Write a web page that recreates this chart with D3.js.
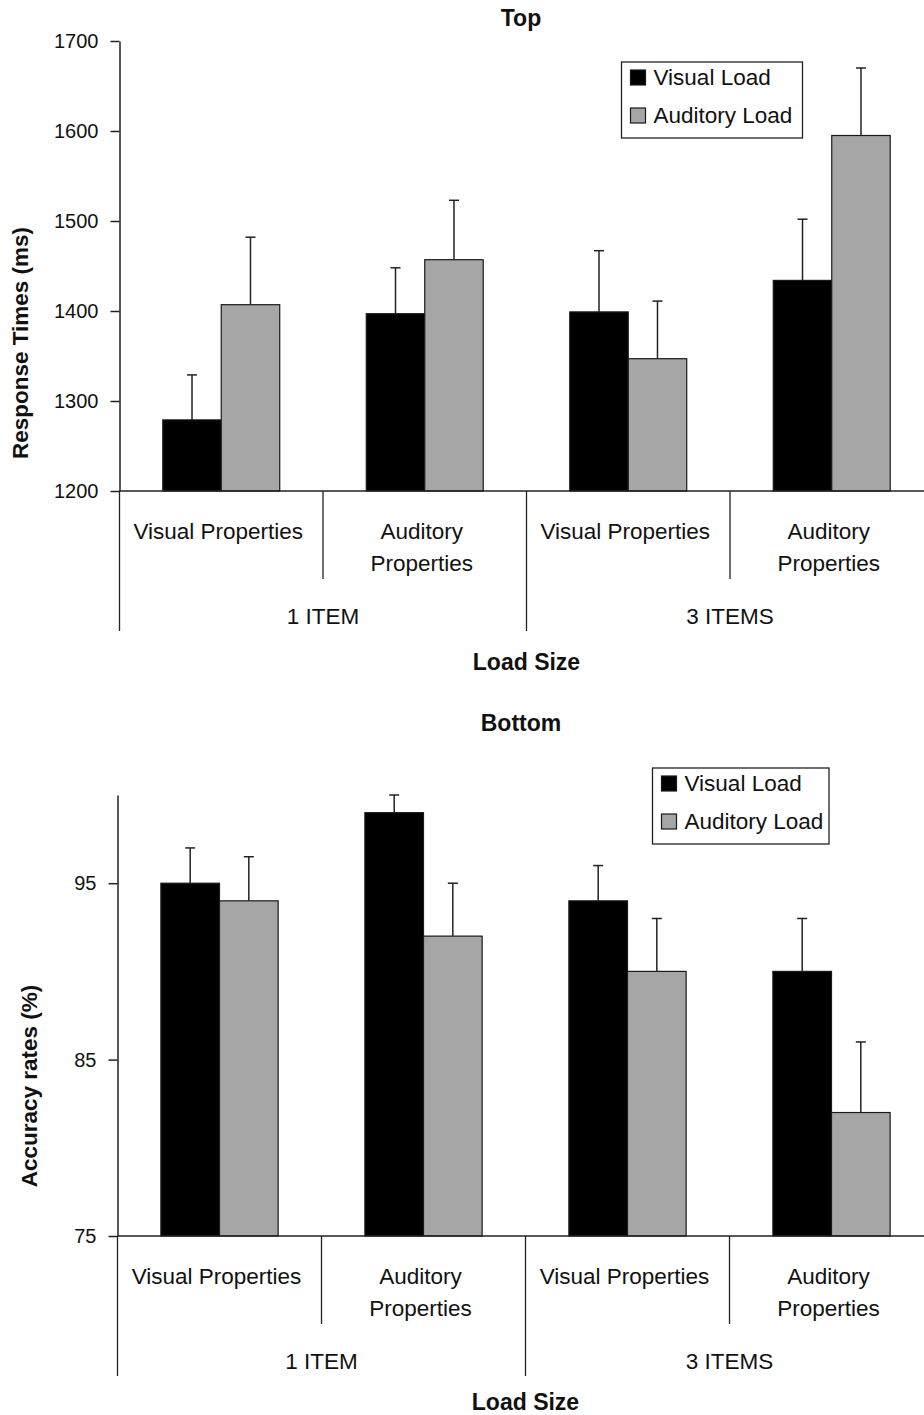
<!DOCTYPE html>
<html>
<head>
<meta charset="utf-8">
<script src="https://cdn.jsdelivr.net/npm/d3@7"></script>
<style>
  body { margin: 0; background: #fff; overflow: hidden; }
  text { font-family: "Liberation Sans", Arial, sans-serif; fill: #111; }
</style>
</head>
<body>
<svg id="chart"></svg>
<script>
// data
const categories = ["Visual Properties", "Auditory Properties", "Visual Properties", "Auditory Properties"];
const categoryLines = [["Visual Properties"], ["Auditory", "Properties"], ["Visual Properties"], ["Auditory", "Properties"]];
const loadSizes = ["1 ITEM", "3 ITEMS"];
const seriesNames = ["Visual Load", "Auditory Load"];

const rtVisual = [1279, 1397, 1399, 1434];
const rtVisualErr = [50, 51, 68, 68];
const rtAuditory = [1407, 1457, 1347, 1595];
const rtAuditoryErr = [75, 66, 64, 75];
const rtTicks = [1200, 1300, 1400, 1500, 1600, 1700];

const accVisual = [95, 99, 94, 90];
const accVisualErr = [2, 1, 2, 3];
const accAuditory = [94, 92, 90, 82];
const accAuditoryErr = [2.5, 3, 3, 4];
const accTicks = [75, 85, 95];

const width = 924;
const height = 1415;
const fills = {"Visual Load": "#000000", "Auditory Load": "#a6a6a6"};

const svg = d3.select('#chart')
    .attr('width', width)
    .attr('height', height);

function drawPanel(p) {
  const g = svg.append('g');

  const y = d3.scaleLinear().domain(p.domain).range([p.bottom, p.top]);
  // plot area runs a little past the right edge of the picture
  const x = d3.scaleBand()
      .domain(d3.range(categories.length))
      .range([p.left, p.right]);
  const xs = d3.scaleBand()
      .domain(seriesNames)
      .range([0, x.bandwidth()])
      .paddingOuter(0.74);

  const rows = [];
  categories.forEach(function(c, i) {
    rows.push({i: i, s: seriesNames[0], v: p.visual[i], e: p.visualErr[i]});
    rows.push({i: i, s: seriesNames[1], v: p.auditory[i], e: p.auditoryErr[i]});
  });

  // bars
  g.selectAll('rect.bar')
      .data(rows)
      .enter()
      .append('rect')
      .attr('class', 'bar')
      .attr('x', function(d) { return x(d.i) + xs(d.s); })
      .attr('y', function(d) { return y(d.v); })
      .attr('width', xs.bandwidth())
      .attr('height', function(d) { return p.bottom - y(d.v); })
      .attr('fill', function(d) { return fills[d.s]; })
      .attr('stroke', '#1a1a1a')
      .attr('stroke-width', 1.2);

  // error bars (upper only)
  const cx = function(d) { return x(d.i) + xs(d.s) + xs.bandwidth() / 2; };
  const err = g.selectAll('g.err')
      .data(rows)
      .enter()
      .append('g')
      .attr('class', 'err')
      .attr('stroke', '#222')
      .attr('stroke-width', 1.5);
  err.append('line')
      .attr('x1', cx)
      .attr('x2', cx)
      .attr('y1', function(d) { return y(d.v); })
      .attr('y2', function(d) { return y(d.v + d.e); });
  err.append('line')
      .attr('x1', function(d) { return cx(d) - 5; })
      .attr('x2', function(d) { return cx(d) + 5; })
      .attr('y1', function(d) { return y(d.v + d.e); })
      .attr('y2', function(d) { return y(d.v + d.e); });

  // y axis
  const yAxis = g.append('g')
      .attr('transform', 'translate(' + p.left + ',0)')
      .call(d3.axisLeft(y).tickValues(p.ticks).tickFormat(d3.format('d'))
        .tickSize(9).tickPadding(12).tickSizeOuter(0));
  yAxis.select('.domain').attr('stroke', '#222').attr('stroke-width', 1.5);
  yAxis.selectAll('.tick line').attr('stroke', '#222').attr('stroke-width', 1.5);
  yAxis.selectAll('.tick text')
      .attr('font-size', 20)
      .attr('font-family', '"Liberation Sans", Arial, sans-serif')
      .attr('fill', '#111');

  // baseline
  g.append('line')
      .attr('x1', p.left).attr('x2', p.right)
      .attr('y1', p.bottom).attr('y2', p.bottom)
      .attr('stroke', '#222').attr('stroke-width', 1.5);

  // category separators
  g.selectAll('line.sep')
      .data(d3.range(categories.length))
      .enter()
      .append('line')
      .attr('class', 'sep')
      .attr('x1', function(i) { return x(i); })
      .attr('x2', function(i) { return x(i); })
      .attr('y1', p.bottom)
      .attr('y2', function(i) { return p.bottom + (i % 2 === 0 ? 140 : 88); })
      .attr('stroke', '#222')
      .attr('stroke-width', 1.3);

  // category labels
  const catText = g.selectAll('text.cat')
      .data(categoryLines)
      .enter()
      .append('text')
      .attr('class', 'cat')
      .attr('text-anchor', 'middle')
      .attr('font-size', 22.5)
      .attr('y', p.bottom + 48);
  catText.selectAll('tspan')
      .data(function(d, i) { return d.map(function(t) { return {t: t, i: i}; }); })
      .enter()
      .append('tspan')
      .attr('x', function(d) { return x(d.i) + x.bandwidth() / 2 - 3; })
      .attr('dy', function(d, k) { return k === 0 ? 0 : 32; })
      .text(function(d) { return d.t; });

  // load size labels
  g.selectAll('text.load')
      .data(loadSizes)
      .enter()
      .append('text')
      .attr('class', 'load')
      .attr('text-anchor', 'middle')
      .attr('font-size', 22.5)
      .attr('x', function(d, k) { return x(k * 2) + x.bandwidth(); })
      .attr('y', p.bottom + 133)
      .text(function(d) { return d; });

  // axis titles
  g.append('text')
      .attr('text-anchor', 'middle')
      .attr('font-size', 23)
      .attr('font-weight', 'bold')
      .attr('x', (p.left + p.right) / 2)
      .attr('y', p.bottom + p.xTitleOffset)
      .text('Load Size');

  g.append('text')
      .attr('text-anchor', 'middle')
      .attr('font-size', 22.5)
      .attr('font-weight', 'bold')
      .attr('transform', 'translate(' + p.yTitleX + ',' + p.yTitleY + ')rotate(-90)')
      .text(p.yTitle);

  g.append('text')
      .attr('text-anchor', 'middle')
      .attr('font-size', 23)
      .attr('font-weight', 'bold')
      .attr('x', 521)
      .attr('y', p.titleY)
      .text(p.title);

  // legend
  const lg = g.append('g')
      .attr('transform', 'translate(' + p.legendX + ',' + p.legendY + ')');
  lg.append('rect')
      .attr('width', p.legendW).attr('height', 76)
      .attr('fill', '#fff')
      .attr('stroke', '#222').attr('stroke-width', 1.3);
  const item = lg.selectAll('g.item')
      .data(seriesNames)
      .enter()
      .append('g')
      .attr('class', 'item')
      .attr('transform', function(d, k) { return 'translate(9,' + (8 + k * 38) + ')'; });
  item.append('rect')
      .attr('width', 15).attr('height', 15)
      .attr('fill', function(d) { return fills[d]; })
      .attr('stroke', '#1a1a1a').attr('stroke-width', 1.2);
  item.append('text')
      .attr('x', 23)
      .attr('y', 15)
      .attr('font-size', 22.5)
      .text(function(d) { return d; });
}

drawPanel({
  top: 41, bottom: 491, left: 119.5, right: 933.5,
  domain: [1200, 1700], ticks: rtTicks,
  visual: rtVisual, visualErr: rtVisualErr,
  auditory: rtAuditory, auditoryErr: rtAuditoryErr,
  title: 'Top', titleY: 26, xTitleOffset: 179,
  yTitle: 'Response Times (ms)', yTitleX: 28, yTitleY: 343,
  legendX: 621.5, legendY: 62, legendW: 181
});

drawPanel({
  top: 795, bottom: 1236, left: 117.5, right: 933.5,
  domain: [75, 100], ticks: accTicks,
  visual: accVisual, visualErr: accVisualErr,
  auditory: accAuditory, auditoryErr: accAuditoryErr,
  title: 'Bottom', titleY: 731, xTitleOffset: 174,
  yTitle: 'Accuracy rates (%)', yTitleX: 37, yTitleY: 1086,
  legendX: 652.5, legendY: 768, legendW: 176.5
});
</script>
</body>
</html>
